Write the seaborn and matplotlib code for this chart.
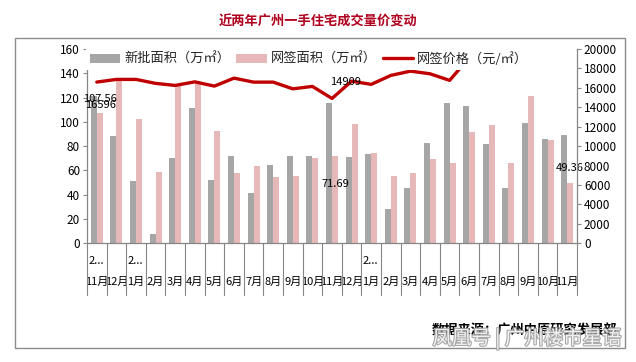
import numpy as np
import pandas as pd
import seaborn as sns
import matplotlib
matplotlib.use("Agg")
import matplotlib.pyplot as plt
from matplotlib.transforms import blended_transform_factory
from matplotlib.patches import Rectangle
import matplotlib.patheffects as pe

sns.set_style("white")
plt.rcParams['font.family'] = ['Noto Sans CJK SC', 'DejaVu Sans']

# ---------------- data ----------------
periods = ["2012-11", "2012-12",
           "2013-01", "2013-02", "2013-03", "2013-04", "2013-05", "2013-06",
           "2013-07", "2013-08", "2013-09", "2013-10", "2013-11", "2013-12",
           "2014-01", "2014-02", "2014-03", "2014-04", "2014-05", "2014-06",
           "2014-07", "2014-08", "2014-09", "2014-10", "2014-11"]
months = ["11月", "12月",
          "1月", "2月", "3月", "4月", "5月", "6月", "7月", "8月", "9月", "10月", "11月", "12月",
          "1月", "2月", "3月", "4月", "5月", "6月", "7月", "8月", "9月", "10月", "11月"]
year_labels = ["2...", "2...", "2..."]
year_starts = [0, 2, 14]

new_supply = [121.6, 88.4, 51.6, 7.7, 70.5, 111.7, 52.4, 72.2, 41.7, 64.8, 71.9, 71.9, 115.8,
              71.4, 73.8, 28.3, 45.8, 82.6, 115.8, 113.1, 81.8, 45.8, 99.1, 86.2, 89.2]
signed_area = [107.56, 135.1, 102.7, 59.0, 130.4, 132.3, 92.8, 58.2, 64.0, 54.9, 55.7, 70.5, 71.69,
               98.3, 74.4, 55.7, 58.2, 69.7, 66.4, 92.0, 97.4, 66.4, 121.3, 85.4, 49.36]
signed_price = [16596, 16870, 16870, 16460, 16250, 16620, 16180, 17000, 16590, 16590, 15900, 16150,
                14909, 16690, 16360, 17280, 17720, 17450, 16770, 19100, 20600, 20900, 20700,
                21000, 20800]

s_new = "新批面积（万㎡）"
s_area = "网签面积（万㎡）"
s_price = "网签价格（元/㎡）"

c_grey = "#A6A6A6"
c_pink = "#E6B9B8"
c_red = "#C00000"
c_axis = "#868686"

df = pd.DataFrame({
    "period": periods * 2,
    "value": new_supply + signed_area,
    "series": [s_new] * len(periods) + [s_area] * len(periods),
})

# ---------------- figure ----------------
W, H = 636, 362
fig = plt.figure(figsize=(W / 100, H / 100), dpi=100)
fig.patch.set_facecolor("white")

L, R, T, B = 87, 577, 49, 243.3
ax = fig.add_axes([L / W, 1 - B / H, (R - L) / W, (B - T) / H])

sns.barplot(data=df, x="period", y="value", hue="series", order=periods,
            hue_order=[s_new, s_area], palette=[c_grey, c_pink], width=0.62,
            saturation=1, errorbar=None, linewidth=0, ax=ax)
ax.set_xlim(-0.5, len(periods) - 0.5)
ax.set_ylim(0, 160)
ax.set_yticks(np.arange(0, 161, 20))
ax.set_xlabel("")
ax.set_ylabel("")

ax2 = ax.twinx()
pos = np.arange(len(periods))
sns.lineplot(x=pos, y=signed_price, ax=ax2, color=c_red, linewidth=2.4,
             label=s_price, sort=False)
ax2.set_ylim(0, 20000)
ax2.set_yticks(np.arange(0, 20001, 2000))
ax2.set_xlim(-0.5, len(periods) - 0.5)
ax2.set_ylabel("")

for a in (ax, ax2):
    for sp in a.spines.values():
        sp.set_color(c_axis)
        sp.set_linewidth(0.9)
    a.spines["top"].set_visible(False)
ax.spines["right"].set_visible(False)
ax2.spines["left"].set_visible(False)
ax2.spines["bottom"].set_visible(False)

ax.tick_params(axis="y", direction="out", length=3, width=0.8, color=c_axis,
               labelsize=8.5, pad=2, labelcolor="black")
ax2.tick_params(axis="y", direction="out", length=3, width=0.8, color=c_axis,
                labelsize=8.5, pad=2, labelcolor="black")
ax.set_xticks(pos)
ax.set_xticklabels(months)
ax.tick_params(axis="x", length=0, pad=24, labelsize=8, labelcolor="black")

# multi-level category axis: separators and year labels
blend = blended_transform_factory(ax.transData, ax.transAxes)
for b in np.arange(-0.5, len(periods), 1.0):
    ax.plot([b, b], [0, -0.266], transform=blend, color=c_axis, lw=0.8,
            clip_on=False)
for s, lab in zip(year_starts, year_labels):
    ax.text(s - 0.42, -0.091, lab, transform=blend, ha="left", va="center",
            fontsize=8, color="black")

# data labels
def lab_bar(i, v, dy):
    ax.annotate(f"{v:g}", xy=(i + 0.155, v), xytext=(0, dy), textcoords="offset points",
                ha="center", va="center", fontsize=8, color="black", zorder=6)

lab_bar(0, signed_area[0], 10)
lab_bar(12, signed_area[12], -20)
lab_bar(24, signed_area[24], 11)

def lab_line(i, v, dx, dy):
    ax2.annotate(f"{v:g}", xy=(i, v), xytext=(dx, dy), textcoords="offset points",
                 ha="center", va="center", fontsize=8, color="black", zorder=6)

lab_line(0, signed_price[0], 3, -16.5)
lab_line(12, signed_price[12], 10, 12)

# legend
h1, l1 = ax.get_legend_handles_labels()
h2, l2 = ax2.get_legend_handles_labels()
if ax.get_legend() is not None:
    ax.get_legend().remove()
leg = ax2.legend(h1 + h2, l1 + l2, ncol=3, loc="upper left",
                 bbox_to_anchor=(-0.002, 1.005), borderaxespad=0, borderpad=0.3,
                 frameon=True, framealpha=1, facecolor="white", edgecolor="none",
                 fontsize=9.5, handlelength=2.3, handletextpad=0.3,
                 columnspacing=0.47, fancybox=False)
leg.set_zorder(10)

# title, border, source
fig.text(318 / W, 1 - 22 / H, "近两年广州一手住宅成交量价变动", ha="center", va="center",
         fontsize=9.5, fontweight="bold", color="#B0001E")
fig.add_artist(Rectangle((15 / W, 1 - 348 / H), 610 / W, 310 / H,
                         transform=fig.transFigure, fill=False,
                         edgecolor="#8c8c8c", lw=1.0))
fig.text(617 / W, 1 - 331 / H, "数据来源：广州中原研究发展部", ha="right", va="center",
         fontsize=9.5, fontweight="bold", color="black")
wm = fig.text(622 / W, 1 - 339 / H, "凤凰号 | 广州楼市星语", ha="right", va="center",
              fontsize=14, color="white", alpha=0.85)
wm.set_path_effects([pe.withStroke(linewidth=1.6, foreground="#9a9a9a")])

fig.savefig("out.png", dpi=100, facecolor="white")
